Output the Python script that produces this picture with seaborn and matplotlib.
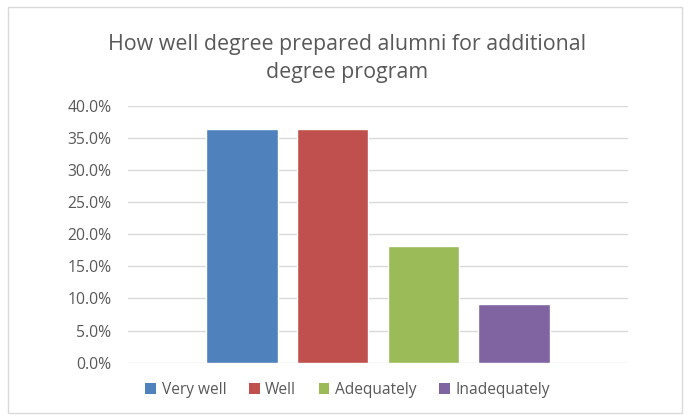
import matplotlib
matplotlib.use("Agg")
import matplotlib.pyplot as plt
import seaborn as sns
import pandas as pd
from matplotlib.patches import Patch, Rectangle
from matplotlib.ticker import PercentFormatter, MultipleLocator

# datos
categorias = ['Very well', 'Well', 'Adequately', 'Inadequately']
valores = [0.364, 0.364, 0.182, 0.091]
colores = ['#4F81BD', '#C0504D', '#9BBB59', '#8064A2']
titulo = 'How well degree prepared alumni for additional\ndegree program'

sns.set_theme(style='white')
plt.rcParams['font.family'] = ['Open Sans', 'DejaVu Sans']

df = pd.DataFrame({'respuesta': categorias, 'porcentaje': valores})

fig = plt.figure(figsize=(6.95, 4.19), dpi=100)
ax = fig.add_axes([128/695, 1 - 362.7/419, 500/695, (362.7 - 105.7)/419])

sns.barplot(data=df, x='respuesta', y='porcentaje', hue='respuesta',
            order=categorias, hue_order=categorias, palette=colores,
            width=0.79, legend=False, saturation=1, ax=ax)

ax.set_xlim(-1.253, 4.253)
ax.set_ylim(0, 0.4)
ax.yaxis.set_major_locator(MultipleLocator(0.05))
ax.yaxis.set_major_formatter(PercentFormatter(xmax=1, decimals=1))
ax.set_xticks([])
ax.set_xlabel('')
ax.set_ylabel('')
ax.grid(axis='y', color='#d9d9d9', linewidth=1.0)
ax.set_axisbelow(True)
for s in ax.spines.values():
    s.set_visible(False)
ax.tick_params(axis='y', length=0, pad=12, labelsize=11.3, labelcolor='#595959')

fig.text(0.5, 1 - 58.5/419, titulo, ha='center', va='center', fontsize=15.4,
         color='#595959', linespacing=1.4)

handles = [Patch(facecolor=c, edgecolor='none', label=l) for c, l in zip(colores, categorias)]
fig.legend(handles=handles, loc='center', bbox_to_anchor=(0.5, 1 - 390/419), ncol=4,
           frameon=False, fontsize=11.2, handlelength=0.7, handleheight=0.7,
           handletextpad=0.35, columnspacing=1.45, labelcolor='#595959')

fig.patches.append(Rectangle((8/695, 1 - 413/419), 674/695, 406/419,
                             transform=fig.transFigure, fill=False,
                             edgecolor='#d9d9d9', linewidth=1.0))

fig.savefig('out.png', dpi=100, facecolor='white')
